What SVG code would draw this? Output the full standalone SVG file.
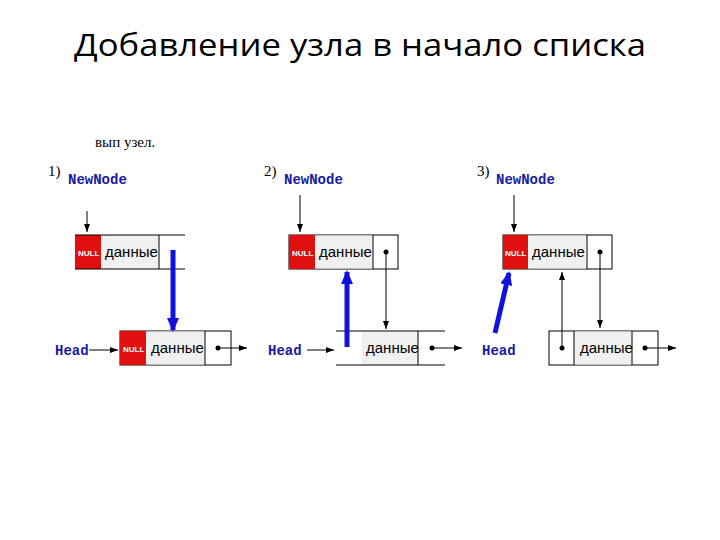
<svg xmlns="http://www.w3.org/2000/svg" width="720" height="540" viewBox="0 0 720 540">
<defs>
<marker id="ah" markerWidth="8" markerHeight="6" refX="8" refY="3" orient="auto" markerUnits="userSpaceOnUse" viewBox="0 0 8 6"><path d="M0,0L8,3L0,6z" fill="#000"/></marker>
<marker id="bh" markerWidth="14" markerHeight="12" refX="12" refY="6" orient="auto" markerUnits="userSpaceOnUse" viewBox="0 0 14 12"><path d="M0,0L14,6L0,12z" fill="#1010e0"/></marker>
<style>
.b{fill:#fff;stroke:#000;stroke-width:1}
.n{fill:#e01010}
.g{fill:#f0f0f0}
.nl{font-family:"Liberation Sans",sans-serif;font-size:8px;font-weight:bold;fill:#fff}
.d{font-family:"Liberation Sans",sans-serif;font-size:15px;fill:#000}
.lb{font-family:"Liberation Mono",monospace;font-size:14px;font-weight:bold;fill:#1a1aa0}
.num{font-family:"Liberation Serif",serif;font-size:15px;fill:#000}
.c{stroke:#000;stroke-width:1;fill:none}
.bl{stroke:#1010e0;stroke-width:5;fill:none}
</style>
</defs>
<text x="360" y="56" text-anchor="middle" font-family="Open Sans, Liberation Sans, sans-serif" font-size="31" textLength="572" lengthAdjust="spacingAndGlyphs" fill="#000">Добавление узла в начало списка</text>
<text x="95" y="147" font-family="Liberation Serif, serif" font-size="15" fill="#000">вып узел.</text>
<rect x="90" y="128" width="80" height="11" fill="#fff"/>

<g id="panel1">
<text x="48" y="176" class="num">1)</text>
<text x="68" y="184" class="lb">NewNode</text>
<g id="p1-new">
<rect x="75" y="235" width="26" height="34" class="n"/>
<rect x="101" y="235" width="58" height="34" class="g"/>
<path d="M75,235H185M75,269H185M159,235V269" class="c"/>
<text x="78" y="256" class="nl">NULL</text>
<text x="105" y="257" class="d">данные</text>
</g>
<g id="p1-head">
<rect x="120" y="331" width="111" height="34" class="b"/>
<rect x="120" y="331" width="26" height="34" class="n"/>
<rect x="146.5" y="331.5" width="58" height="33" class="g"/>
<path d="M205,331V365" class="c"/>
<text x="123" y="352" class="nl">NULL</text>
<text x="151" y="353" class="d">данные</text>
<circle cx="218" cy="348" r="2.5"/>
</g>
<text x="55" y="355" class="lb">Head</text>
</g>

<g id="panel2">
<text x="264" y="176" class="num">2)</text>
<text x="284" y="184" class="lb">NewNode</text>
<g id="p2-new">
<rect x="289" y="235" width="109" height="34" class="b"/>
<rect x="289" y="235" width="26" height="34" class="n"/>
<rect x="315.5" y="235.5" width="57" height="33" class="g"/>
<path d="M373,235V269" class="c"/>
<text x="292" y="256" class="nl">NULL</text>
<text x="319" y="257" class="d">данные</text>
<circle cx="386" cy="252" r="2.5"/>
</g>
<g id="p2-head">
<rect x="362" y="332" width="56" height="33" class="g"/>
<path d="M336,331H445M336,365H445M418,331V365" class="c"/>
<text x="366" y="353" class="d">данные</text>
<circle cx="432" cy="348" r="2.5"/>
</g>
<text x="268" y="355" class="lb">Head</text>
</g>

<g id="panel3">
<text x="477" y="176" class="num">3)</text>
<text x="496" y="184" class="lb">NewNode</text>
<g id="p3-new">
<rect x="503" y="235" width="109" height="34" class="b"/>
<rect x="503" y="235" width="25" height="34" class="n"/>
<rect x="528.5" y="235.5" width="58" height="33" class="g"/>
<path d="M587,235V269" class="c"/>
<text x="505" y="256" class="nl">NULL</text>
<text x="532" y="257" class="d">данные</text>
<circle cx="600" cy="252" r="2.5"/>
</g>
<g id="p3-old">
<rect x="549" y="331" width="109" height="34" class="b"/>
<rect x="574.5" y="331.5" width="57" height="33" class="g"/>
<path d="M574,331V365M632,331V365" class="c"/>
<text x="580" y="353" class="d">данные</text>
<circle cx="562" cy="348" r="2.5"/>
<circle cx="645" cy="348" r="2.5"/>
</g>
<text x="482" y="355" class="lb">Head</text>
</g>

<g id="connectors">
<path d="M87,211V232" class="c" marker-end="url(#ah)"/>
<path d="M173,250V330" class="bl" marker-end="url(#bh)"/>
<path d="M89,350H118" class="c" marker-end="url(#ah)"/>
<path d="M218,348H247" class="c" marker-end="url(#ah)"/>

<path d="M300,195V232" class="c" marker-end="url(#ah)"/>
<path d="M386,252V329" class="c" marker-end="url(#ah)"/>
<path d="M347,347V272" class="bl" marker-end="url(#bh)"/>
<path d="M307,350H334" class="c" marker-end="url(#ah)"/>
<path d="M432,348H462" class="c" marker-end="url(#ah)"/>

<path d="M514,195V232" class="c" marker-end="url(#ah)"/>
<path d="M600,252V328" class="c" marker-end="url(#ah)"/>
<path d="M562,348V272" class="c" marker-end="url(#ah)"/>
<path d="M495,333L509,273" class="bl" marker-end="url(#bh)"/>
<path d="M645,348H676" class="c" marker-end="url(#ah)"/>
</g>
</svg>
